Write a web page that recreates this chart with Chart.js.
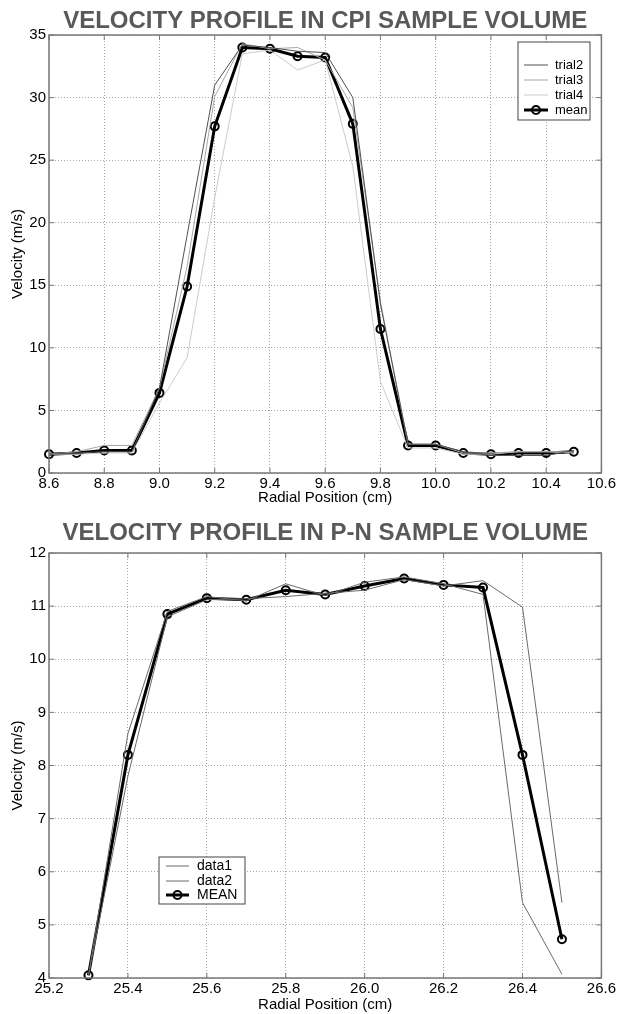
<!DOCTYPE html>
<html>
<head>
<meta charset="utf-8">
<script src="https://cdn.jsdelivr.net/npm/chart.js@4.4.1/dist/chart.umd.min.js"></script>
<style>
    body { margin: 0; background: #fff; }
    .box { position: relative; width: 618px; height: 507px; }
</style>
</head>
<body>
<div class="box"><canvas id="cpi" width="618" height="507"></canvas></div>
<div class="box"><canvas id="pn" width="618" height="507"></canvas></div>
<script>
// CPI sample volume (top)
const cpiX = [8.6, 8.7, 8.8, 8.9, 9.0, 9.1, 9.2, 9.3, 9.4, 9.5, 9.6, 9.7, 9.8, 9.9, 10.0, 10.1, 10.2, 10.3, 10.4, 10.5];
const trial2 = [1.5, 1.6, 1.7, 1.7, 6.8, 19.0, 31.0, 34.2, 34.0, 33.7, 33.6, 30.0, 13.5, 2.3, 2.3, 1.7, 1.4, 1.4, 1.4, 1.8];
const trial3 = [1.5, 1.7, 2.2, 2.2, 6.8, 16.5, 30.1, 34.3, 33.9, 34.0, 33.0, 29.2, 13.7, 2.3, 2.3, 1.6, 1.6, 1.7, 1.7, 1.7];
const trial4 = [1.5, 1.5, 1.6, 1.6, 5.6, 9.2, 22.0, 33.5, 33.8, 32.2, 33.0, 24.5, 7.3, 2.0, 2.0, 1.5, 1.5, 1.7, 1.7, 1.6];
const cpiMean = [1.5, 1.6, 1.8, 1.8, 6.4, 14.9, 27.7, 34.0, 33.9, 33.3, 33.2, 27.9, 11.5, 2.2, 2.2, 1.6, 1.5, 1.6, 1.6, 1.7];

// P-N sample volume (bottom)
const pnX = [25.3, 25.4, 25.5, 25.6, 25.7, 25.8, 25.9, 26.0, 26.1, 26.2, 26.3, 26.4, 26.5];
const data1 = [4.05, 8.6, 10.9, 11.18, 11.1, 11.42, 11.2, 11.45, 11.55, 11.42, 11.22, 5.42, 4.07];
const data2 = [4.05, 7.8, 10.8, 11.12, 11.14, 11.18, 11.24, 11.3, 11.5, 11.38, 11.48, 10.98, 5.42];
const pnMean = [4.05, 8.2, 10.85, 11.15, 11.12, 11.3, 11.22, 11.38, 11.52, 11.4, 11.35, 8.2, 4.73];

const FONT = 'Arial, "Liberation Sans", Helvetica, sans-serif';
const pts = (xs, ys) => xs.map((x, i) => ({ x, y: ys[i] }));

const thin = (label, xs, ys, color) => ({
    label, data: pts(xs, ys), borderColor: color, borderWidth: 1,
    pointRadius: 0, showLine: true, tension: 0
});
const mean = (label, xs, ys) => ({
    label, data: pts(xs, ys), borderColor: '#000', borderWidth: 3,
    pointRadius: 4, pointBorderWidth: 2, pointBackgroundColor: 'rgba(0,0,0,0)',
    pointBorderColor: '#000', showLine: true, tension: 0, clip: false
});

// box round the plot, inward ticks and the legend box
const framePlugin = {
    id: 'frame',
    afterDatasetsDraw(chart, args, o) {
        const { ctx, chartArea: a, scales: { x, y } } = chart;
        ctx.save();
        ctx.strokeStyle = '#777';
        ctx.lineWidth = 1;
        ctx.beginPath();
        x.ticks.forEach(t => {
            const p = x.getPixelForValue(t.value);
            ctx.moveTo(p, a.bottom); ctx.lineTo(p, a.bottom - 5);
            ctx.moveTo(p, a.top); ctx.lineTo(p, a.top + 5);
        });
        y.ticks.forEach(t => {
            const p = y.getPixelForValue(t.value);
            ctx.moveTo(a.left, p); ctx.lineTo(a.left + 5, p);
            ctx.moveTo(a.right, p); ctx.lineTo(a.right - 5, p);
        });
        ctx.stroke();
        ctx.lineWidth = 1.5;
        ctx.strokeRect(a.left, a.top, a.right - a.left, a.bottom - a.top);

        // legend
        const L = o.legend;
        ctx.fillStyle = '#fff';
        ctx.fillRect(L.x, L.y, L.w, L.h);
        ctx.lineWidth = 1;
        ctx.strokeStyle = '#444';
        ctx.strokeRect(L.x, L.y, L.w, L.h);
        ctx.font = L.size + 'px ' + FONT;
        ctx.textBaseline = 'middle';
        chart.data.datasets.forEach((ds, i) => {
            const ry = L.rows[i];
            ctx.strokeStyle = ds.borderColor;
            ctx.lineWidth = ds.borderWidth;
            ctx.beginPath();
            ctx.moveTo(L.x1, ry); ctx.lineTo(L.x2, ry);
            ctx.stroke();
            if (ds.pointRadius) {
                ctx.lineWidth = ds.pointBorderWidth;
                ctx.beginPath();
                ctx.arc((L.x1 + L.x2) / 2, ry, ds.pointRadius, 0, Math.PI * 2);
                ctx.stroke();
            }
            ctx.fillStyle = '#000';
            ctx.fillText(ds.label, L.tx, ry);
        });
        ctx.restore();
    }
};

const makeChart = (id, cfg) => new Chart(document.getElementById(id), {
    type: 'scatter',
    data: { datasets: cfg.datasets },
    plugins: [framePlugin],
    options: {
        responsive: false,
        animation: false,
        layout: { padding: { left: 0, right: 16, top: 0, bottom: 0 } },
        scales: {
            x: {
                type: 'linear', min: cfg.xMin, max: cfg.xMax,
                afterFit: s => { s.height = cfg.xH; },
                grid: { color: '#a8a8a8', drawTicks: false },
                border: { display: false, dash: [1, 2] },
                ticks: { stepSize: 0.2, padding: 2, maxRotation: 0, autoSkip: false, color: '#000', font: { family: FONT, size: 15 } },
                title: { display: true, text: 'Radial Position (cm)', color: '#000', padding: 0, font: { family: FONT, size: 15 } }
            },
            y: {
                min: cfg.yMin, max: cfg.yMax,
                afterFit: s => { s.width = 49; },
                grid: { color: '#a8a8a8', drawTicks: false },
                border: { display: false, dash: [1, 2] },
                ticks: { stepSize: cfg.yStep, padding: 3, color: '#000', font: { family: FONT, size: 15 } },
                title: { display: true, text: 'Velocity (m/s)', color: '#000', padding: { top: 9, bottom: 0 }, font: { family: FONT, size: 15 } }
            }
        },
        plugins: {
            legend: { display: false },
            tooltip: { enabled: false },
            title: {
                display: true, fullSize: false, text: cfg.title, color: '#595959',
                padding: cfg.titlePad,
                font: { family: FONT, size: 24, weight: 'bold', lineHeight: 1.1 }
            },
            frame: { legend: cfg.legend }
        }
    }
});

makeChart('cpi', {
    title: 'VELOCITY PROFILE IN CPI SAMPLE VOLUME',
    titlePad: { top: 8, bottom: 0.6 },
    xMin: 8.6, xMax: 10.6, xH: 34,
    yMin: 0, yMax: 35, yStep: 5,
    datasets: [
        thin('trial2', cpiX, trial2, '#505050'),
        thin('trial3', cpiX, trial3, '#a8a8a8'),
        thin('trial4', cpiX, trial4, '#cccccc'),
        mean('mean', cpiX, cpiMean)
    ],
    legend: { x: 518, y: 42, w: 72, h: 78, rows: [65, 80, 95, 110], x1: 524, x2: 548, tx: 555, size: 13 }
});

makeChart('pn', {
    title: 'VELOCITY PROFILE IN P-N SAMPLE VOLUME',
    titlePad: { top: 13, bottom: 6.6 },
    xMin: 25.2, xMax: 26.6, xH: 36,
    yMin: 4, yMax: 12, yStep: 1,
    datasets: [
        thin('data1', pnX, data1, '#6a6a6a'),
        thin('data2', pnX, data2, '#6a6a6a'),
        mean('MEAN', pnX, pnMean)
    ],
    legend: { x: 159, y: 350, w: 86, h: 47, rows: [359, 374, 388], x1: 166, x2: 189, tx: 197, size: 14 }
});
</script>
</body>
</html>
